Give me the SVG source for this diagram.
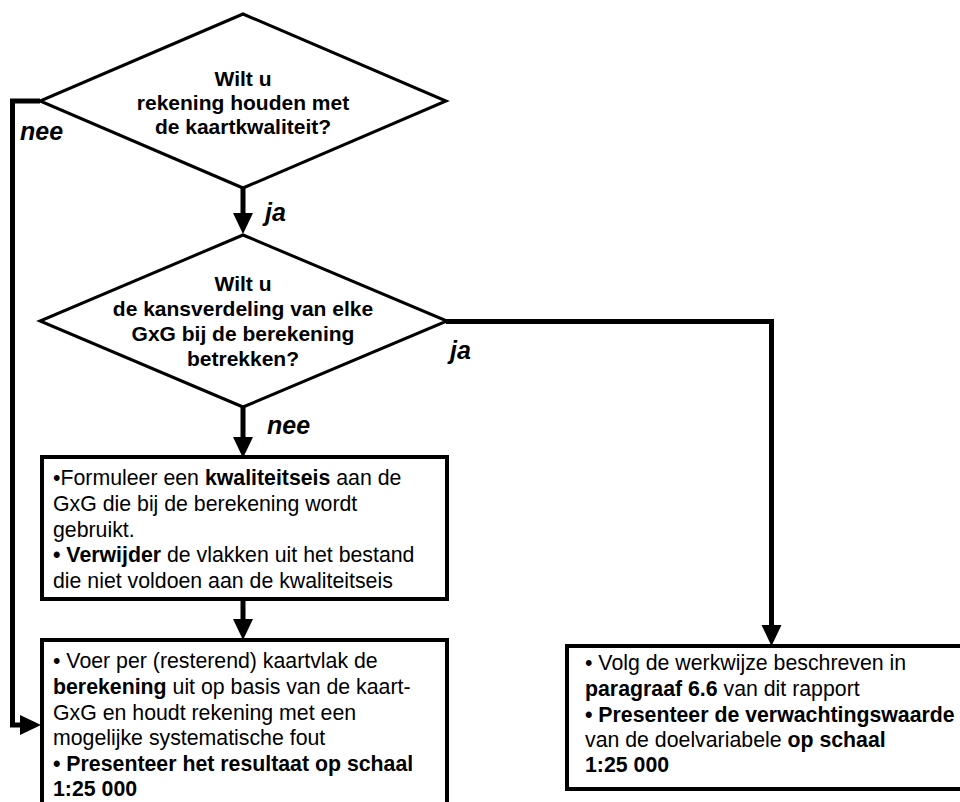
<svg xmlns="http://www.w3.org/2000/svg" width="960" height="802" viewBox="0 0 960 802">
<defs>
<style>
.shape{fill:#fff;stroke:#000;stroke-width:3;stroke-linejoin:miter}
.box{fill:#fff;stroke:#000;stroke-width:4}
.conn{fill:none;stroke:#000;stroke-width:5;stroke-linejoin:miter}
.q{font-family:"Liberation Sans",Arial,sans-serif;font-size:21px;font-weight:bold;text-anchor:middle;fill:#000}
.t{font-family:"Liberation Sans",Arial,sans-serif;font-size:21.3px;fill:#000}
.b{font-weight:bold}
.lbl{font-family:"Liberation Sans",Arial,sans-serif;font-size:25px;font-weight:bold;font-style:italic;fill:#000}
</style>
<marker id="ah" markerUnits="userSpaceOnUse" markerWidth="22" markerHeight="22" refX="0" refY="11" orient="auto">
<path d="M0,1 L21,11 L0,21 Z" fill="#000"/>
</marker>
</defs>
<rect width="960" height="802" fill="#fff"/>

<g id="connectors">
<path class="conn" d="M243,188 V213" marker-end="url(#ah)"/>
<path class="conn" d="M243,407 V437" marker-end="url(#ah)"/>
<path class="conn" d="M243,600 V619" marker-end="url(#ah)"/>
<path class="conn" d="M40,101 H12.5 V725 H20" marker-end="url(#ah)"/>
<path class="conn" d="M446,321.5 H771.5 V625" marker-end="url(#ah)"/>
<text class="lbl" x="265" y="221">ja</text>
<text class="lbl" x="267" y="434">nee</text>
<text class="lbl" x="20" y="140">nee</text>
<text class="lbl" x="450" y="359">ja</text>
</g>

<g id="q1">
<polygon class="shape" points="243,14 446,101 243,188 40,101"/>
<text class="q" x="243" y="86">Wilt u</text>
<text class="q" x="243" y="110">rekening houden met</text>
<text class="q" x="243" y="133.5">de kaartkwaliteit?</text>
</g>

<g id="q2">
<polygon class="shape" points="243,235 447,321 243,407 40,321"/>
<text class="q" x="243" y="291">Wilt u</text>
<text class="q" x="243" y="316">de kansverdeling van elke</text>
<text class="q" x="243" y="341">GxG bij de berekening</text>
<text class="q" x="243" y="366">betrekken?</text>
</g>

<g id="box1">
<rect class="box" x="42" y="457" width="405" height="142"/>
<text class="t" x="53" y="485">•Formuleer een <tspan class="b">kwaliteitseis</tspan> aan de</text>
<text class="t" x="53" y="511">GxG die bij de berekening wordt</text>
<text class="t" x="53" y="536.5">gebruikt.</text>
<text class="t" x="53" y="562"><tspan class="b">• Verwijder</tspan> de vlakken uit het bestand</text>
<text class="t" x="53" y="588">die niet voldoen aan de kwaliteitseis</text>
</g>

<g id="box2">
<rect class="box" x="42" y="640" width="405" height="180"/>
<text class="t" x="53" y="668">• Voer per (resterend) kaartvlak de</text>
<text class="t" x="53" y="694"><tspan class="b">berekening</tspan> uit op basis van de kaart-</text>
<text class="t" x="53" y="719.5">GxG en houdt rekening met een</text>
<text class="t" x="53" y="745">mogelijke systematische fout</text>
<text class="t b" x="53" y="771">• Presenteer het resultaat op schaal</text>
<text class="t b" x="53" y="796">1:25 000</text>
</g>

<g id="box3">
<rect class="box" x="567" y="646" width="400" height="143"/>
<text class="t" x="585" y="670">• Volg de werkwijze beschreven in</text>
<text class="t" x="585" y="696"><tspan class="b">paragraaf 6.6</tspan> van dit rapport</text>
<text class="t b" x="585" y="721.5">• Presenteer de verwachtingswaarde</text>
<text class="t" x="585" y="747">van de doelvariabele <tspan class="b">op schaal</tspan></text>
<text class="t b" x="585" y="772">1:25 000</text>
</g>
</svg>
